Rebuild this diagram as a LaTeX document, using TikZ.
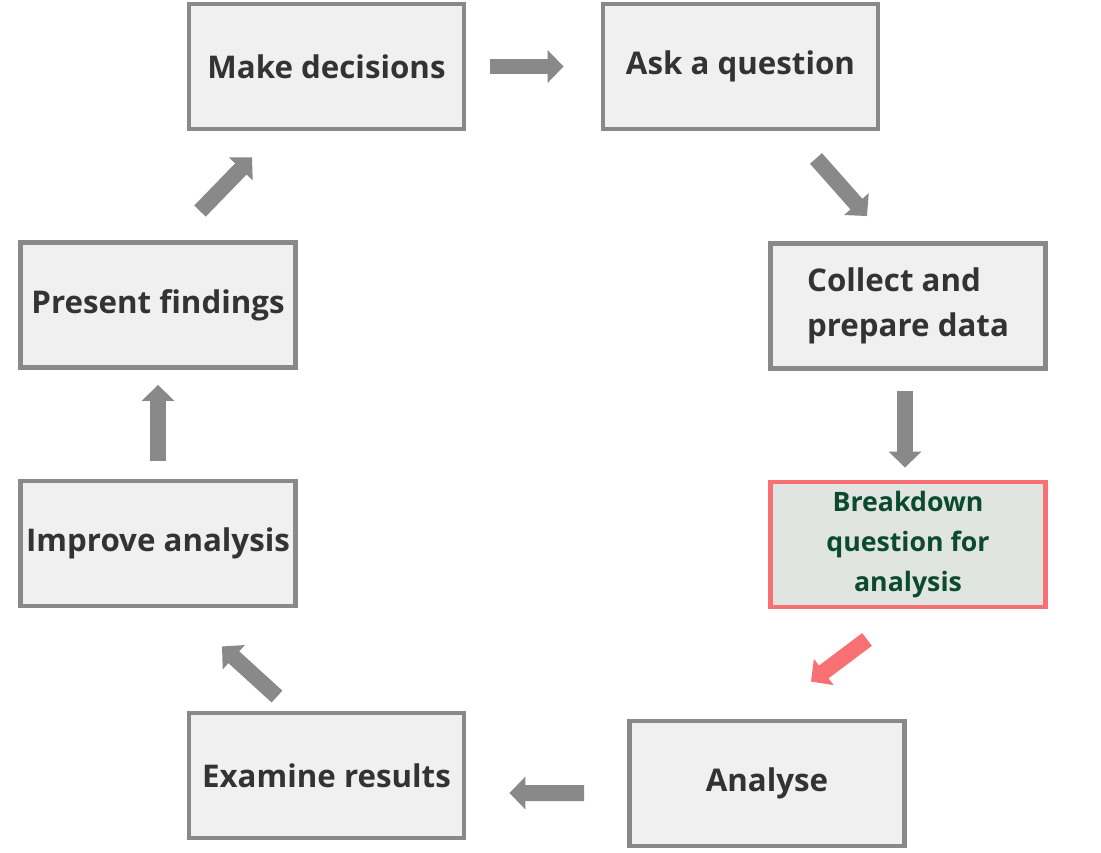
\documentclass[tikz,border=0pt]{standalone}
\usepackage{fontspec}
\setmainfont{Open Sans}
\usetikzlibrary{arrows.meta}
\definecolor{boxline}{HTML}{898989}
\definecolor{boxfill}{HTML}{F0F0F0}
\definecolor{boxtext}{HTML}{333333}
\definecolor{hiline}{HTML}{F87074}
\definecolor{hifill}{HTML}{E1E5E2}
\definecolor{hitext}{HTML}{0B4A2D}
\tikzset{
  box/.style={draw=boxline, fill=boxfill, line width=2.8pt, minimum width=5.5cm,
    minimum height=2.5cm, text=boxtext, font=\fontsize{17.8}{25.5}\selectfont\bfseries},
  hibox/.style={box, draw=hiline, fill=hifill, text=hitext, align=center,
    font=\fontsize{15.2}{22.7}\selectfont\bfseries},
  blk/.style={draw=boxline, line width=0.32cm, -{Triangle[width=0.64cm,length=0.32cm]}},
  hiblk/.style={blk, draw=hiline}
}
\begin{document}
\begin{tikzpicture}[x=0.02cm, y=-0.02cm]
    \useasboundingbox (0,0) rectangle (1101,852);
    % boxes round the cycle
    \node[box] (md) at (326.5,66.5) {Make decisions};
    \node[box] (aq) at (740.5,66.5) {Ask a question};
    \node[box, align=left] (cp) at (908,306) {Collect and\\prepare data};
    \node[hibox] (bd) at (908,544.5) {Breakdown\\question for\\analysis};
    \node[box] (an) at (767,783.5) {Analyse};
    \node[box] (er) at (326.5,775.5) {Examine results};
    \node[box] (ia) at (158,543.5) {Improve analysis};
    \node[box] (pf) at (158,305) {Present findings};

    % arrows
    \draw[blk, shorten <=0.48cm, shorten >=0.74cm] (md.east) -- (aq.west);
    \draw[blk] ([xshift=1.51cm, yshift=-0.54cm]aq.south) -- ([xshift=-0.82cm, yshift=0.5cm]cp.north);
    \draw[blk, shorten <=0.4cm, shorten >=0.24cm] ([xshift=-0.06cm]cp.south) -- ([xshift=-0.06cm]bd.north);
    \draw[hiblk] ([xshift=-0.82cm, yshift=-0.6cm]bd.south) -- ([xshift=0.88cm, yshift=0.74cm]an.north);
    \draw[blk, shorten <=0.86cm, shorten >=0.86cm] ([yshift=-0.19cm]an.west) -- ([yshift=-0.35cm]er.east);
    \draw[blk] ([xshift=-0.99cm, yshift=0.28cm]er.north) -- ([xshift=1.28cm, yshift=-0.76cm]ia.south);
    \draw[blk, shorten <=0.36cm, shorten >=0.3cm] (ia.north) -- (pf.south);
    \draw[blk] ([xshift=0.84cm, yshift=0.58cm]pf.north) -- ([xshift=-1.49cm, yshift=-0.52cm]md.south);
\end{tikzpicture}
\end{document}
